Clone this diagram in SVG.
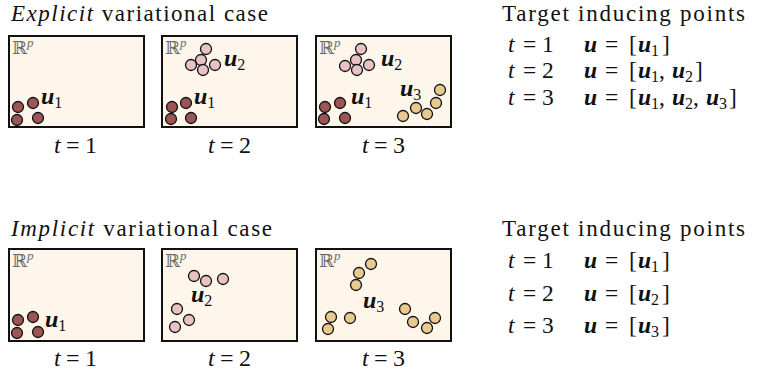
<svg xmlns="http://www.w3.org/2000/svg" width="758" height="370" viewBox="0 0 758 370" font-family="'Liberation Serif', 'Times New Roman', 'DejaVu Serif', serif">
<style>
text{font-family:"Liberation Serif","Times New Roman","DejaVu Serif",serif;fill:#111}
.ttl{font-size:23px}
.it{font-style:italic}
.bu{font-style:italic;font-weight:bold}
.row{font-size:23.5px}
.lab{font-size:24px}
.sb{font-size:16px}
.rp{font-family:"DejaVu Serif","DejaVu Sans",serif;font-size:18px;fill:#6a6a6a}
.rpp{font-family:"Liberation Serif",serif;font-style:italic;font-size:13px;fill:#6a6a6a}
.panel{fill:#fef5eb;stroke:#111;stroke-width:2}
.d1{fill:#9b5555;stroke:#111;stroke-width:1.3}
.d2{fill:#e9c2c5;stroke:#111;stroke-width:1.3}
.d3{fill:#e9c98f;stroke:#111;stroke-width:1.3}
</style>
<defs>
<g id="rp"><text class="rp" x="0" y="0">ℝ<tspan class="rpp" dy="-7">p</tspan></text></g>
</defs>

<text class="ttl" x="11" y="21" textLength="257" lengthAdjust="spacing"><tspan class="it">Explicit</tspan> variational case</text>
<text class="ttl" x="11" y="236" textLength="261" lengthAdjust="spacing"><tspan class="it">Implicit</tspan> variational case</text>

<g id="explicit-t1">
<rect class="panel" x="9" y="36" width="135" height="91"/>
<use href="#rp" x="12" y="54"/>
<circle class="d1" cx="18" cy="107" r="5.5"/><circle class="d1" cx="33" cy="103" r="5.5"/><circle class="d1" cx="17" cy="120" r="5.5"/><circle class="d1" cx="38" cy="118" r="5.5"/>
<text class="lab" x="41" y="104"><tspan class="bu">u</tspan><tspan class="sb" dy="4">1</tspan></text>
<text class="lab" y="153"><tspan class="it" x="54">t</tspan><tspan x="66">=</tspan><tspan x="85">1</tspan></text>
</g>

<g id="explicit-t2">
<rect class="panel" x="162" y="36" width="135" height="91"/>
<use href="#rp" x="165" y="54"/>
<circle class="d1" cx="172" cy="107" r="5.5"/><circle class="d1" cx="186" cy="103" r="5.5"/><circle class="d1" cx="171" cy="119" r="5.5"/><circle class="d1" cx="191" cy="118" r="5.5"/>
<text class="lab" x="194" y="104"><tspan class="bu">u</tspan><tspan class="sb" dy="4">1</tspan></text>
<circle class="d2" cx="206" cy="49" r="5.5"/><circle class="d2" cx="201" cy="60" r="5.5"/><circle class="d2" cx="191" cy="65" r="5.5"/><circle class="d2" cx="203" cy="70" r="5.5"/><circle class="d2" cx="215" cy="65" r="5.5"/>
<text class="lab" x="224" y="66"><tspan class="bu">u</tspan><tspan class="sb" dy="4">2</tspan></text>
<text class="lab" y="153"><tspan class="it" x="208">t</tspan><tspan x="220">=</tspan><tspan x="239">2</tspan></text>
</g>

<g id="explicit-t3">
<rect class="panel" x="316" y="36" width="135" height="91"/>
<use href="#rp" x="319" y="54"/>
<circle class="d1" cx="325" cy="107" r="5.5"/><circle class="d1" cx="340" cy="103" r="5.5"/><circle class="d1" cx="324" cy="119" r="5.5"/><circle class="d1" cx="345" cy="118" r="5.5"/>
<text class="lab" x="351" y="104"><tspan class="bu">u</tspan><tspan class="sb" dy="4">1</tspan></text>
<circle class="d2" cx="361" cy="49" r="5.5"/><circle class="d2" cx="356" cy="60" r="5.5"/><circle class="d2" cx="345" cy="66" r="5.5"/><circle class="d2" cx="357" cy="70" r="5.5"/><circle class="d2" cx="369" cy="65" r="5.5"/>
<text class="lab" x="381" y="66"><tspan class="bu">u</tspan><tspan class="sb" dy="4">2</tspan></text>
<circle class="d3" cx="440" cy="90" r="5.5"/><circle class="d3" cx="436" cy="103" r="5.5"/><circle class="d3" cx="416" cy="108" r="5.5"/><circle class="d3" cx="427" cy="114" r="5.5"/><circle class="d3" cx="403" cy="116" r="5.5"/>
<text class="lab" x="400" y="96"><tspan class="bu">u</tspan><tspan class="sb" dy="4">3</tspan></text>
<text class="lab" y="153"><tspan class="it" x="362">t</tspan><tspan x="374">=</tspan><tspan x="393">3</tspan></text>
</g>

<g id="implicit-t1">
<rect class="panel" x="9" y="249" width="135" height="92"/>
<use href="#rp" x="12" y="267"/>
<circle class="d1" cx="18" cy="320" r="5.5"/><circle class="d1" cx="33" cy="317" r="5.5"/><circle class="d1" cx="17" cy="333" r="5.5"/><circle class="d1" cx="38" cy="332" r="5.5"/>
<text class="lab" x="45" y="327"><tspan class="bu">u</tspan><tspan class="sb" dy="4">1</tspan></text>
<text class="lab" y="366"><tspan class="it" x="54">t</tspan><tspan x="66">=</tspan><tspan x="85">1</tspan></text>
</g>

<g id="implicit-t2">
<rect class="panel" x="162" y="249" width="135" height="92"/>
<use href="#rp" x="165" y="267"/>
<circle class="d2" cx="194" cy="276" r="5.5"/><circle class="d2" cx="206" cy="281" r="5.5"/><circle class="d2" cx="223" cy="279" r="5.5"/><circle class="d2" cx="177" cy="309" r="5.5"/><circle class="d2" cx="189" cy="320" r="5.5"/><circle class="d2" cx="175" cy="327" r="5.5"/>
<text class="lab" x="191" y="302"><tspan class="bu">u</tspan><tspan class="sb" dy="4">2</tspan></text>
<text class="lab" y="366"><tspan class="it" x="208">t</tspan><tspan x="220">=</tspan><tspan x="239">2</tspan></text>
</g>

<g id="implicit-t3">
<rect class="panel" x="316" y="249" width="135" height="92"/>
<use href="#rp" x="319" y="267"/>
<circle class="d3" cx="371" cy="264" r="5.5"/><circle class="d3" cx="359" cy="273" r="5.5"/><circle class="d3" cx="356" cy="285" r="5.5"/><circle class="d3" cx="331" cy="317" r="5.5"/><circle class="d3" cx="328" cy="329" r="5.5"/><circle class="d3" cx="350" cy="318" r="5.5"/><circle class="d3" cx="405" cy="309" r="5.5"/><circle class="d3" cx="413" cy="322" r="5.5"/><circle class="d3" cx="427" cy="328" r="5.5"/><circle class="d3" cx="435" cy="318" r="5.5"/>
<text class="lab" x="363" y="308"><tspan class="bu">u</tspan><tspan class="sb" dy="4">3</tspan></text>
<text class="lab" y="366"><tspan class="it" x="362">t</tspan><tspan x="374">=</tspan><tspan x="393">3</tspan></text>
</g>

<g id="explicit-targets">
<text class="ttl" x="502" y="21" textLength="243" lengthAdjust="spacing">Target inducing points</text>
<text class="row" y="51.5"><tspan class="it" x="508">t</tspan><tspan x="523">=</tspan><tspan x="542">1</tspan></text>
<text class="row" y="51.5"><tspan class="bu" x="584">u</tspan><tspan x="605">=</tspan><tspan x="629">[</tspan><tspan class="bu" x="638">u</tspan><tspan class="sb" dy="4">1</tspan><tspan dy="-4" x="662">]</tspan></text>
<text class="row" y="78"><tspan class="it" x="508">t</tspan><tspan x="523">=</tspan><tspan x="542">2</tspan></text>
<text class="row" y="78"><tspan class="bu" x="584">u</tspan><tspan x="605">=</tspan><tspan x="629">[</tspan><tspan class="bu" x="638">u</tspan><tspan class="sb" dy="4">1</tspan><tspan dy="-4" x="659">,</tspan><tspan class="bu" x="672">u</tspan><tspan class="sb" dy="4">2</tspan><tspan dy="-4" x="695">]</tspan></text>
<text class="row" y="104.5"><tspan class="it" x="508">t</tspan><tspan x="523">=</tspan><tspan x="542">3</tspan></text>
<text class="row" y="104.5"><tspan class="bu" x="584">u</tspan><tspan x="605">=</tspan><tspan x="629">[</tspan><tspan class="bu" x="638">u</tspan><tspan class="sb" dy="4">1</tspan><tspan dy="-4" x="659">,</tspan><tspan class="bu" x="672">u</tspan><tspan class="sb" dy="4">2</tspan><tspan dy="-4" x="693">,</tspan><tspan class="bu" x="706">u</tspan><tspan class="sb" dy="4">3</tspan><tspan dy="-4" x="729">]</tspan></text>
</g>

<g id="implicit-targets">
<text class="ttl" x="502" y="236" textLength="243" lengthAdjust="spacing">Target inducing points</text>
<text class="row" y="268"><tspan class="it" x="508">t</tspan><tspan x="523">=</tspan><tspan x="542">1</tspan></text>
<text class="row" y="268"><tspan class="bu" x="584">u</tspan><tspan x="605">=</tspan><tspan x="629">[</tspan><tspan class="bu" x="638">u</tspan><tspan class="sb" dy="4">1</tspan><tspan dy="-4" x="662">]</tspan></text>
<text class="row" y="301"><tspan class="it" x="508">t</tspan><tspan x="523">=</tspan><tspan x="542">2</tspan></text>
<text class="row" y="301"><tspan class="bu" x="584">u</tspan><tspan x="605">=</tspan><tspan x="629">[</tspan><tspan class="bu" x="638">u</tspan><tspan class="sb" dy="4">2</tspan><tspan dy="-4" x="662">]</tspan></text>
<text class="row" y="333"><tspan class="it" x="508">t</tspan><tspan x="523">=</tspan><tspan x="542">3</tspan></text>
<text class="row" y="333"><tspan class="bu" x="584">u</tspan><tspan x="605">=</tspan><tspan x="629">[</tspan><tspan class="bu" x="638">u</tspan><tspan class="sb" dy="4">3</tspan><tspan dy="-4" x="662">]</tspan></text>
</g>
</svg>
